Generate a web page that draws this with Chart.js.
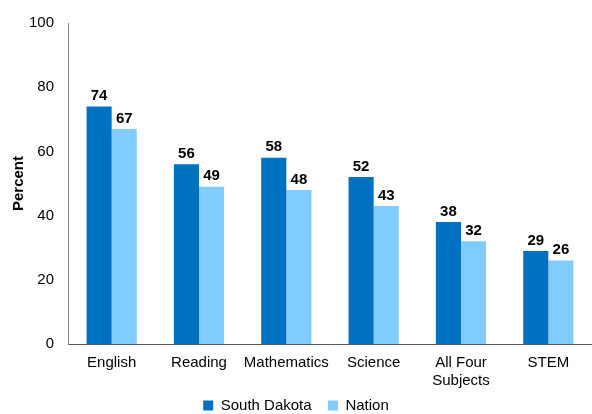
<!DOCTYPE html>
<html>
<head>
<meta charset="utf-8">
<script src="https://cdn.jsdelivr.net/npm/chart.js@4"></script>
<style>
  html, body { margin: 0; padding: 0; background: #fff; }
  #wrap { width: 592px; height: 414px; }
</style>
</head>
<body>
<div id="wrap"><canvas id="chart"></canvas></div>
<script>
// chart data
const categories = ['English', 'Reading', 'Mathematics', 'Science', ['All Four', 'Subjects'], 'STEM'];
const southDakota = [74, 56, 58, 52, 38, 29];
const nation = [67, 49, 48, 43, 32, 26];
const yTicks = [0, 20, 40, 60, 80, 100];

const FONT = 'Liberation Sans, Arial, sans-serif';

// bold value labels above each bar
const barLabels = {
    id: 'barLabels',
    afterDatasetsDraw(chart) {
        const ctx = chart.ctx;
        ctx.save();
        ctx.font = 'bold 15px ' + FONT;
        ctx.fillStyle = '#000';
        ctx.textAlign = 'center';
        ctx.textBaseline = 'bottom';
        chart.data.datasets.forEach((ds, i) => {
            chart.getDatasetMeta(i).data.forEach((bar, j) => {
                ctx.fillText(ds.data[j], bar.x, bar.y - 3);
            });
        });
        ctx.restore();
    }
};

new Chart(document.getElementById('chart'), {
    type: 'bar',
    data: {
        labels: categories,
        datasets: [
            {
                label: 'South Dakota',
                data: southDakota,
                backgroundColor: '#0070C0',
                barPercentage: 1,
                categoryPercentage: 0.575
            },
            {
                label: 'Nation',
                data: nation,
                backgroundColor: '#80CBFF',
                barPercentage: 1,
                categoryPercentage: 0.575
            }
        ]
    },
    options: {
        responsive: true,
        maintainAspectRatio: false,
        animation: false,
        layout: {
            padding: { top: 18, right: 0, bottom: -9, left: 0 }
        },
        plugins: {
            legend: {
                position: 'bottom',
                labels: {
                    boxWidth: 10,
                    boxHeight: 10,
                    padding: 8,
                    color: '#000',
                    font: { family: FONT, size: 15 },
                    // a little extra room between the two items
                    generateLabels: (chart) => {
                        const items = Chart.defaults.plugins.legend.labels.generateLabels(chart);
                        items.forEach((it, i) => {
                            if (i < items.length - 1) it.text += '  ';
                        });
                        return items;
                    }
                }
            },
            tooltip: { enabled: false }
        },
        scales: {
            x: {
                grid: { display: false, drawTicks: false },
                border: { display: true, color: '#595959', width: 1 },
                ticks: {
                    color: '#000',
                    maxRotation: 0,
                    autoSkip: false,
                    padding: 10,
                    font: { family: FONT, size: 15 }
                },
                afterFit: (axis) => { axis.height = 46; }
            },
            y: {
                min: 0,
                max: 100,
                afterBuildTicks: (axis) => {
                    axis.ticks = yTicks.map(v => ({ value: v }));
                },
                grid: { display: false, drawTicks: false },
                border: { display: true, color: '#868686', width: 1 },
                ticks: {
                    color: '#000',
                    padding: 14,
                    font: { family: FONT, size: 15 }
                },
                title: {
                    display: true,
                    text: 'Percent',
                    color: '#000',
                    padding: { top: 10, bottom: 4 },
                    font: { family: FONT, size: 15, weight: 'bold' }
                },
                afterFit: (axis) => { axis.width = 68; }
            }
        }
    },
    plugins: [barLabels]
});
</script>
</body>
</html>
